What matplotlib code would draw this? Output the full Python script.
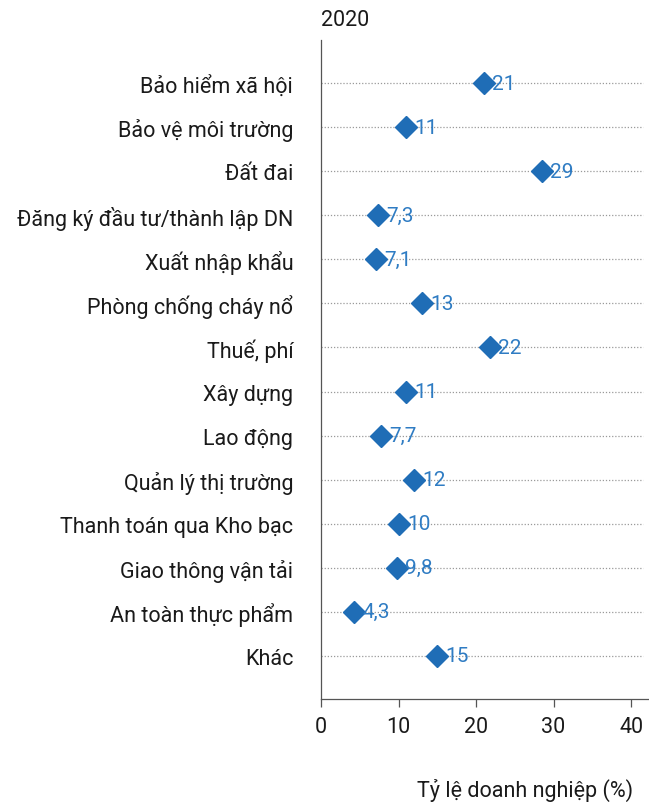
import matplotlib
matplotlib.use("Agg")
import matplotlib.pyplot as plt

categories = ["Bảo hiểm xã hội", "Bảo vệ môi trường", "Đất đai",
              "Đăng ký đầu tư/thành lập DN", "Xuất nhập khẩu",
              "Phòng chống cháy nổ", "Thuế, phí", "Xây dựng", "Lao động",
              "Quản lý thị trường", "Thanh toán qua Kho bạc",
              "Giao thông vận tải", "An toàn thực phẩm", "Khác"]
values = [21, 11, 28.5, 7.3, 7.1, 13, 21.8, 11, 7.7, 12, 10, 9.8, 4.3, 15]
value_labels = ["21", "11", "29", "7,3", "7,1", "13", "22", "11", "7,7",
                "12", "10", "9,8", "4,3", "15"]
xticks = [0, 10, 20, 30, 40]

FONT = ["Roboto", "DejaVu Sans"]
plt.rcParams['font.family'] = FONT

fig = plt.figure(figsize=(6.49, 8.03), dpi=100)
ax = fig.add_axes([321/649, 103/803, 1 - 321/649, (700-41)/803])

n = len(categories)
ypos = list(range(n))
for y in ypos:
    ax.plot([0, 41.5], [y, y], color="#9a9a9a", lw=0.9, ls=(0, (1, 1.5)), zorder=1)

ax.plot(values, ypos, ls="none", marker="D", markersize=11.5,
        color="#1f6db6", zorder=3)
for v, y, lab in zip(values, ypos, value_labels):
    ax.annotate(lab, (v, y), xytext=(6, 0), textcoords="offset points",
                va="center", ha="left", fontsize=15, color="#2f7cc3", zorder=4)

ax.set_xlim(0, 42.3)
ax.set_ylim(n - 1 + 0.98, -0.98)
ax.set_yticks(ypos)
ax.set_yticklabels(categories, fontsize=15.5, color="#1a1a1a")
ax.tick_params(axis="y", length=0, pad=20)
ax.set_xticks(xticks)
ax.set_xticklabels([str(t) for t in xticks], fontsize=15.5, color="#1a1a1a")
ax.tick_params(axis="x", length=6, width=0.9, color="#555555", pad=6, direction="out")

for s in ["top", "right"]:
    ax.spines[s].set_visible(False)
for s in ["left", "bottom"]:
    ax.spines[s].set_color("#555555")
    ax.spines[s].set_linewidth(0.9)

fig.text(321/649, 1 - 20/803, "2020", fontsize=15.5, color="#1a1a1a",
         ha="left", va="center")
fig.text(633/649, 1 - 790/803, "Tỷ lệ doanh nghiệp (%)", fontsize=15.5,
         color="#1a1a1a", ha="right", va="center")

fig.savefig("out.png", dpi=100)
